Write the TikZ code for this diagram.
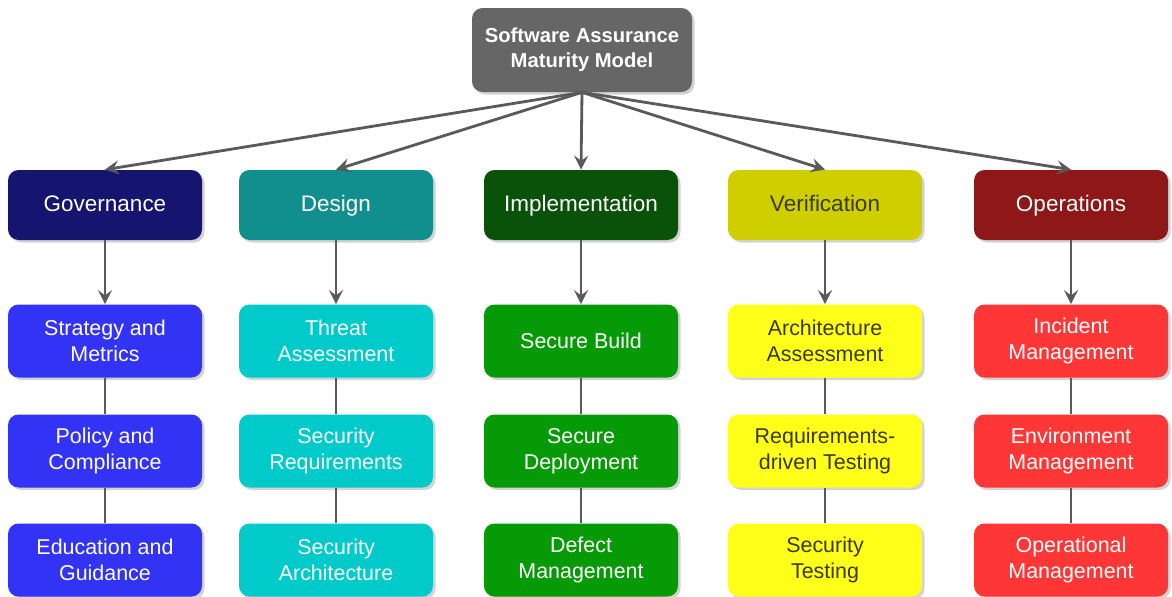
\documentclass[tikz,border=0pt]{standalone}
\usepackage{fontspec}
\setmainfont{Liberation Sans}
\usetikzlibrary{shadows}
\usetikzlibrary{arrows.meta}

\definecolor{topgray}{HTML}{666666}
\definecolor{govdark}{HTML}{15156F}
\definecolor{govlight}{HTML}{3333F5}
\definecolor{desdark}{HTML}{118E8E}
\definecolor{deslight}{HTML}{00CACA}
\definecolor{impdark}{HTML}{0A520A}
\definecolor{implight}{HTML}{079A07}
\definecolor{verdark}{HTML}{CFCF00}
\definecolor{verlight}{HTML}{FFFF1A}
\definecolor{opsdark}{HTML}{8E1717}
\definecolor{opslight}{HTML}{FF3636}
\definecolor{lineg}{HTML}{5A5A5A}
\definecolor{vertext}{HTML}{3A3A10}

\begin{document}
\begin{tikzpicture}[
    box/.style={rounded corners=6pt, draw=none, align=center, text=white,
      minimum width=3.88cm, minimum height=1.46cm, inner sep=2pt,
      font=\fontsize{12.2}{14.6}\selectfont,
      drop shadow={shadow xshift=0.05cm, shadow yshift=-0.05cm, opacity=0.35}},
    head node/.style={box, minimum height=1.4cm, text height=1.75ex, text depth=0.45ex,
      font=\fontsize{12.8}{15}\selectfont},
    main node/.style={box, minimum width=4.4cm, minimum height=1.68cm,
      font=\fontsize{11.5}{14}\selectfont\bfseries},
    link/.style={draw=lineg, line width=1.6pt, -{Stealth[length=8pt, width=8pt, inset=3pt]}},
    bar/.style={draw=lineg, line width=1.6pt},
    ]
  \useasboundingbox (0,0) rectangle (23.44,-11.92);

  \node[main node, fill=topgray] (samm) at (11.64,-1.0) {Software Assurance\\Maturity Model};

  \node[head node, fill=govdark] (gov) at (2.1,-4.1) {Governance};
  \node[head node, fill=desdark] (des) at (6.72,-4.1) {Design};
  \node[head node, fill=impdark] (imp) at (11.62,-4.1) {Implementation};
  \node[head node, fill=verdark, text=vertext] (ver) at (16.5,-4.1) {Verification};
  \node[head node, fill=opsdark] (ops) at (21.42,-4.1) {Operations};

  \node[box, fill=govlight] (gov1) at (2.1,-6.82) {Strategy and\\Metrics};
  \node[box, fill=govlight] (gov2) at (2.1,-9.02) {Policy and\\Compliance};
  \node[box, fill=govlight] (gov3) at (2.1,-11.2) {Education and\\Guidance};

  \node[box, fill=deslight] (des1) at (6.72,-6.82) {Threat\\Assessment};
  \node[box, fill=deslight] (des2) at (6.72,-9.02) {Security\\Requirements};
  \node[box, fill=deslight] (des3) at (6.72,-11.2) {Security\\Architecture};

  \node[box, fill=implight] (imp1) at (11.62,-6.82) {Secure Build};
  \node[box, fill=implight] (imp2) at (11.62,-9.02) {Secure\\Deployment};
  \node[box, fill=implight] (imp3) at (11.62,-11.2) {Defect\\Management};

  \node[box, fill=verlight, text=vertext] (ver1) at (16.5,-6.82) {Architecture\\Assessment};
  \node[box, fill=verlight, text=vertext] (ver2) at (16.5,-9.02) {Requirements-\\driven Testing};
  \node[box, fill=verlight, text=vertext] (ver3) at (16.5,-11.2) {Security\\Testing};

  \node[box, fill=opslight] (ops1) at (21.42,-6.82) {Incident\\Management};
  \node[box, fill=opslight] (ops2) at (21.42,-9.02) {Environment\\Management};
  \node[box, fill=opslight] (ops3) at (21.42,-11.2) {Operational\\Management};

  % top level to the business functions
  \draw[link] (samm.south) -- (gov.north);
  \draw[link] (samm.south) -- (des.north);
  \draw[link] (samm.south) -- (imp.north);
  \draw[link] (samm.south) -- (ver.north);
  \draw[link] (samm.south) -- (ops.north);

  % business functions to their practices
  \draw[link] (gov) -- (gov1);
  \draw[link] (des) -- (des1);
  \draw[link] (imp) -- (imp1);
  \draw[link] (ver) -- (ver1);
  \draw[link] (ops) -- (ops1);

  \draw[bar] (gov1) -- (gov2) (gov2) -- (gov3);
  \draw[bar] (des1) -- (des2) (des2) -- (des3);
  \draw[bar] (imp1) -- (imp2) (imp2) -- (imp3);
  \draw[bar] (ver1) -- (ver2) (ver2) -- (ver3);
  \draw[bar] (ops1) -- (ops2) (ops2) -- (ops3);
\end{tikzpicture}
\end{document}
